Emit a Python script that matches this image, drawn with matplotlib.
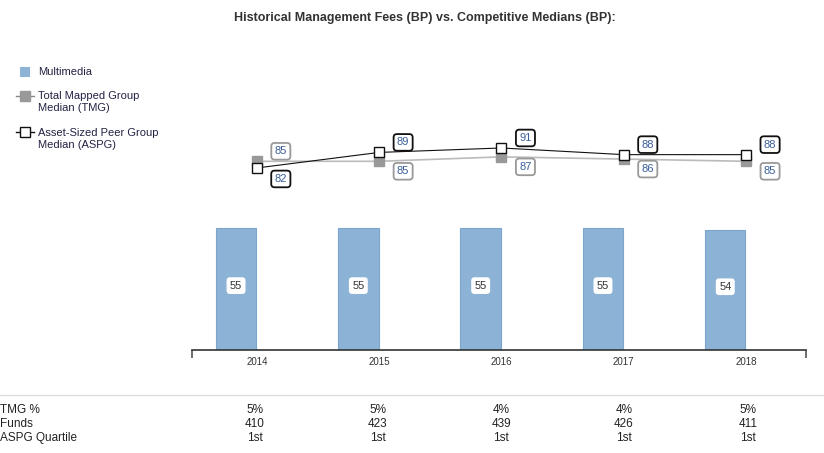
import matplotlib.pyplot as plt
import numpy as np

plt.rcParams['font.family'] = ['Liberation Sans', 'DejaVu Sans']

years = ["2014", "2015", "2016", "2017", "2018"]
multimedia = [55, 55, 55, 55, 54]
tmg = [85, 85, 87, 86, 85]
aspg = [82, 89, 91, 88, 88]
tmg_pct = ["5%", "5%", "4%", "4%", "5%"]
funds = ["410", "423", "439", "426", "411"]
quartile = ["1st", "1st", "1st", "1st", "1st"]

W, H = 824, 453
fig = plt.figure(figsize=(W / 100, H / 100), dpi=100)
ax = fig.add_axes([192 / W, (H - 350) / H, 614 / W, 222 / H])

x = np.arange(len(years))
shift = 0.17
ax.bar(x, multimedia, width=0.33, color="#8cb3d6", edgecolor="#7aa5cd", linewidth=0.8, zorder=2)
for xi, v in zip(x, multimedia):
    ax.text(xi, v / 2 + 1.5, str(v), ha="center", va="center", fontsize=8, color="#333333",
            bbox=dict(boxstyle="round,pad=0.3", fc="white", ec="none"), zorder=4)

ax.plot(x + shift, tmg, color="#bbbbbb", lw=1.2, marker="s", ms=7, mfc="#999999", mec="#999999", zorder=3)
ax.plot(x + shift, aspg, color="#111111", lw=0.8, marker="s", ms=7.5, mfc="white", mec="#111111", mew=1, zorder=3)

for i, (t, a) in enumerate(zip(tmg, aspg)):
    t_up = t > a
    ax.annotate(str(t), (x[i] + shift, t), xytext=(24, 10 if t_up else -10), textcoords="offset pixels",
                ha="center", va="center", fontsize=8, color="#3a5f9a",
                bbox=dict(boxstyle="round,pad=0.3", fc="white", ec="#999999", lw=1.3), zorder=5)
    ax.annotate(str(a), (x[i] + shift, a), xytext=(24, -11 if t_up else 10), textcoords="offset pixels",
                ha="center", va="center", fontsize=8, color="#3a5f9a",
                bbox=dict(boxstyle="round,pad=0.3", fc="white", ec="#111111", lw=1.3), zorder=5)

ax.set_xlim(-0.36, 4.66)
ax.set_ylim(0, 100)
for s in ["top", "right", "left"]:
    ax.spines[s].set_visible(False)
ax.spines["bottom"].set_color("#333333")
ax.spines["bottom"].set_linewidth(1.2)
ax.set_yticks([])
ax.set_xticks([-0.36, 4.66])
ax.set_xticklabels(["", ""])
ax.tick_params(axis="x", length=6, color="#555555", width=1.2)
for xi, yr in zip(x, years):
    ax.text(xi + shift, -5.5, yr, ha="center", va="center", fontsize=7, color="#333333")

fig.text(425 / W, 1 - 18 / H, "Historical Management Fees (BP) vs. Competitive Medians (BP):",
         ha="center", va="center", fontsize=9, fontweight="bold", color="#333333")

# legend
fig.patches.append(plt.Rectangle((20 / W, 1 - 77 / H), 10 / W, 10 / H, transform=fig.transFigure,
                                 fc="#8cb3d6", ec="none"))
fig.text(38 / W, 1 - 72 / H, "Multimedia", va="center", fontsize=8, color="#222244")
fig.add_artist(plt.Line2D([16 / W, 34 / W], [1 - 96 / H] * 2, color="#888888", lw=1,
                          transform=fig.transFigure))
fig.add_artist(plt.Line2D([25 / W], [1 - 96 / H], marker="s", ms=7, mfc="#999999", mec="#999999",
                          transform=fig.transFigure))
fig.text(38 / W, 1 - 102.5 / H, "Total Mapped Group\nMedian (TMG)", va="center", fontsize=8,
         color="#222244", linespacing=1.25)
fig.add_artist(plt.Line2D([16 / W, 34 / W], [1 - 132 / H] * 2, color="#111111", lw=1,
                          transform=fig.transFigure))
fig.add_artist(plt.Line2D([25 / W], [1 - 132 / H], marker="s", ms=7, mfc="white", mec="#111111",
                          transform=fig.transFigure))
fig.text(38 / W, 1 - 139 / H, "Asset-Sized Peer Group\nMedian (ASPG)", va="center", fontsize=8,
         color="#222244", linespacing=1.25)

# table
fig.add_artist(plt.Line2D([0, 1], [1 - 395 / H] * 2, color="#dddddd", lw=1, transform=fig.transFigure))
col_x = [255, 378, 501, 624, 748]
rows = [("TMG %", tmg_pct), ("Funds", funds), ("ASPG Quartile", quartile)]
for r, (name, vals) in enumerate(rows):
    yy = 1 - (410 + 14 * r) / H
    fig.text(0, yy, name, va="center", fontsize=8.5, color="#222222")
    for cx, v in zip(col_x, vals):
        fig.text(cx / W, yy, v, ha="center", va="center", fontsize=8.5, color="#222222")

fig.savefig("out.png", dpi=100)
